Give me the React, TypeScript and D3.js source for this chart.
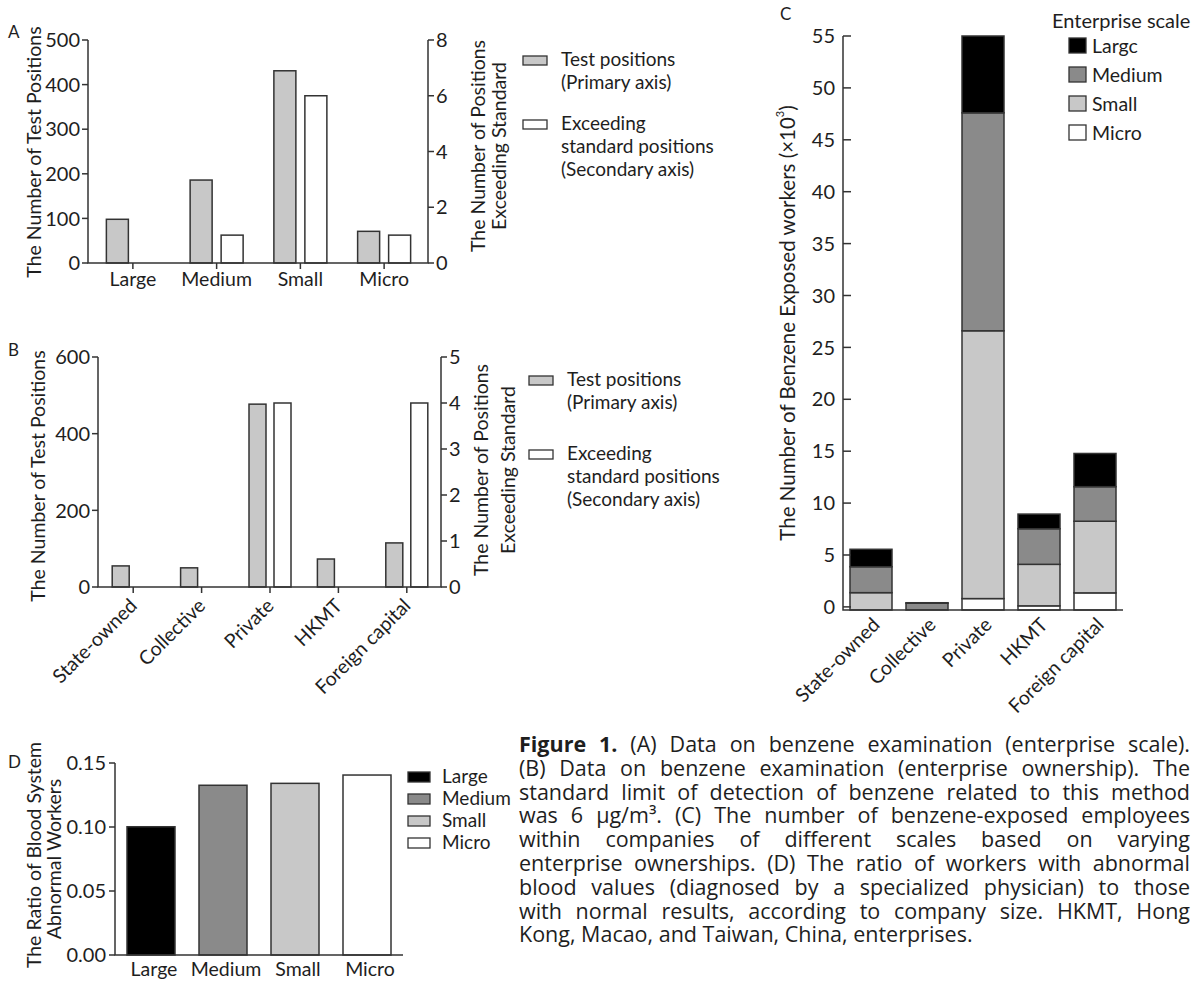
import React from 'react';
import * as d3 from 'd3';

const FONT = 'Lato, "Open Sans", sans-serif';
const CAP_FONT = '"Open Sans", Lato, sans-serif';
const INK = '#1e1e1e';
const LINE = '#333';
const LIGHT = '#c8c8c8';
const MID = '#8a8a8a';

// panel A: enterprise scale
const scaleCats = ['Large', 'Medium', 'Small', 'Micro'];
const aTest = [98, 186, 431, 71];
const aExceed = [0, 1, 6, 1];
const aLeftTicks = [0, 100, 200, 300, 400, 500];
const aRightTicks = [0, 2, 4, 6, 8];

// panel B: enterprise ownership
const ownCats = ['State-owned', 'Collective', 'Private', 'HKMT', 'Foreign capital'];
const bTest = [55, 50, 477, 73, 115];
const bExceed = [0, 0, 4, 0, 4];
const bLeftTicks = [0, 200, 400, 600];
const bRightTicks = [0, 1, 2, 3, 4, 5];

// panel C: exposed workers (x10^3), stacked by scale
const cMicro = [0, 0, 0.8, 0.1, 1.35];
const cSmall = [1.37, 0, 25.8, 4.0, 6.9];
const cMedium = [2.5, 0.35, 21.0, 3.43, 3.33];
const cLarge = [1.68, 0.05, 7.4, 1.41, 3.2];
const cTicks = [0, 5, 10, 15, 20, 25, 30, 35, 40, 45, 50, 55];
const cLegend = ['Largc', 'Medium', 'Small', 'Micro'];

// panel D: abnormal ratio
const dRatio = [0.1002, 0.1326, 0.1341, 0.1406];
const dTicks = [0, 0.05, 0.1, 0.15];

const caption = [
  '*Figure *1. (A) Data on benzene examination (enterprise scale).',
  '(B) Data on benzene examination (enterprise ownership). The',
  'standard limit of detection of benzene related to this method',
  'was 6 μg/m³. (C) The number of benzene-exposed employees',
  'within companies of different scales based on varying',
  'enterprise ownerships. (D) The ratio of workers with abnormal',
  'blood values (diagnosed by a specialized physician) to those',
  'with normal results, according to company size. HKMT, Hong',
  'Kong, Macao, and Taiwan, China, enterprises.',
];

const TICK = 20;
const LAB = 19.5;
const LEG = 19;
const CAP = 21.5;

const T = (p: any) => <text fill={INK} fontFamily={FONT} {...p} />;

function DualPanel(p: any) {
  const x = d3.scaleBand().domain(p.cats).range([p.bandX0, p.bandX1]);
  const yL = d3.scaleLinear().domain([0, d3.max(p.leftTicks) as number]).range([p.yBase, p.yTop]);
  const yR = d3.scaleLinear().domain([0, d3.max(p.rightTicks) as number]).range([p.yBase, p.yTop]);
  const cx = (c: string) => (x(c) as number) + x.bandwidth() / 2;
  return (
    <g>
      <T x={8} y={p.letterY} fontSize={17}>{p.letter}</T>
      {p.cats.map((c: string, i: number) => (
        <g key={c}>
          <rect x={cx(c) - p.inner - p.barW} y={yL(p.test[i])} width={p.barW}
            height={p.yBase - yL(p.test[i])} fill={LIGHT} stroke={LINE} strokeWidth={1.5} />
          {p.exceed[i] > 0 && (
            <rect x={cx(c) + p.inner} y={yR(p.exceed[i])} width={p.barW}
              height={p.yBase - yR(p.exceed[i])} fill="#fff" stroke={LINE} strokeWidth={1.5} />
          )}
          <line x1={cx(c)} x2={cx(c)} y1={p.yBase} y2={p.yBase + 6} stroke={LINE} strokeWidth={1.5} />
          {p.rotate ? (
            <T transform={`translate(${cx(c) + p.labDx},${p.yBase + p.labDy}) rotate(-45)`}
              textAnchor="end" fontSize={LAB}>{c}</T>
          ) : (
            <T x={cx(c)} y={p.yBase + 23} textAnchor="middle" fontSize={LAB}>{c}</T>
          )}
        </g>
      ))}
      <path d={`M${p.axisX0},${p.yTop}V${p.yBase}H${p.axisX1}V${p.yTop}`} fill="none" stroke={LINE} strokeWidth={1.5} />
      {p.leftTicks.map((t: number) => (
        <g key={'l' + t}>
          <line x1={p.axisX0 - 6} x2={p.axisX0} y1={yL(t)} y2={yL(t)} stroke={LINE} strokeWidth={1.5} />
          <T x={p.axisX0 - 8} y={yL(t)} dy="0.36em" textAnchor="end" fontSize={TICK}>{t}</T>
        </g>
      ))}
      {p.rightTicks.map((t: number) => (
        <g key={'r' + t}>
          <line x1={p.axisX1} x2={p.axisX1 + 6} y1={yR(t)} y2={yR(t)} stroke={LINE} strokeWidth={1.5} />
          <T x={p.axisX1 + 8} y={yR(t)} dy="0.36em" fontSize={TICK}>{t}</T>
        </g>
      ))}
      <T transform={`translate(${p.leftTitleX},${p.leftTitleY}) rotate(-90)`} textAnchor="middle"
        dominantBaseline="central" fontSize={LAB}>The Number of Test Positions</T>
      <T transform={`translate(${p.rightTitleX[0]},${p.rightTitleY}) rotate(-90)`} textAnchor="middle"
        dominantBaseline="central" fontSize={LAB}>The Number of Positions</T>
      <T transform={`translate(${p.rightTitleX[1]},${p.rightTitleY}) rotate(-90)`} textAnchor="middle"
        dominantBaseline="central" fontSize={LAB}>Exceeding Standard</T>
      <rect x={p.legX} y={p.legY} width={24} height={9} fill={LIGHT} stroke={LINE} strokeWidth={1.3} />
      <T x={p.legX + 38} y={p.legY + 10} fontSize={LEG}>Test positions</T>
      <T x={p.legX + 38} y={p.legY + 33} fontSize={LEG}>(Primary axis)</T>
      <rect x={p.legX} y={p.legY + p.legGap} width={24} height={9} fill="#fff" stroke={LINE} strokeWidth={1.3} />
      <T x={p.legX + 38} y={p.legY + p.legGap + 10} fontSize={LEG}>Exceeding</T>
      <T x={p.legX + 38} y={p.legY + p.legGap + 33} fontSize={LEG}>standard positions</T>
      <T x={p.legX + 38} y={p.legY + p.legGap + 56} fontSize={LEG}>(Secondary axis)</T>
    </g>
  );
}

function PanelC() {
  const x = d3.scaleBand().domain(ownCats).range([843, 1123]).paddingInner(0.25).paddingOuter(0.125);
  const y = d3.scaleLinear().domain([-0.3, 55]).range([610, 36]);
  const layers = [cMicro, cSmall, cMedium, cLarge];
  const fills = ['#fff', LIGHT, MID, '#000'];
  const base = y.domain()[0];
  return (
    <g>
      <T x={780} y={20} fontSize={17}>C</T>
      {ownCats.map((c, i) => {
        let acc = 0;
        return (
          <g key={c}>
            {layers.map((L, k) => {
              const lo = acc === 0 ? base : acc;
              acc += L[i];
              if (L[i] <= 0) return null;
              const hi = acc;
              return (
                <rect key={k} x={x(c)} y={y(hi)} width={x.bandwidth()} height={y(lo) - y(hi)}
                  fill={fills[k]} stroke={LINE} strokeWidth={1.5} />
              );
            })}
            <T transform={`translate(${(x(c) as number) + x.bandwidth() / 2 + 10},${626}) rotate(-45)`}
              textAnchor="end" fontSize={LAB}>{c}</T>
          </g>
        );
      })}
      <path d={`M843,36V610H1123`} fill="none" stroke={LINE} strokeWidth={1.5} />
      {cTicks.map(t => (
        <g key={t}>
          <line x1={843} x2={851} y1={y(t)} y2={y(t)} stroke={LINE} strokeWidth={1.5} />
          <T x={835} y={y(t)} dy="0.36em" textAnchor="end" fontSize={TICK}>{t}</T>
        </g>
      ))}
      <T transform="translate(787,323) rotate(-90)" textAnchor="middle" dominantBaseline="central" fontSize={20.5}>
        The Number of Benzene Exposed workers (×10<tspan fontSize={11} dy={-8}>3</tspan><tspan dy={8}>)</tspan>
      </T>
      <T x={1052} y={28} fontSize={20}>Enterprise scale</T>
      {cLegend.map((s, k) => (
        <g key={s}>
          <rect x={1069} y={38 + k * 29} width={17} height={15} fill={fills[3 - k]} stroke={LINE} strokeWidth={1.3} />
          <T x={1092} y={53 + k * 29} fontSize={19.5}>{s}</T>
        </g>
      ))}
    </g>
  );
}

function PanelD() {
  const x = d3.scaleBand().domain(scaleCats).range([115, 403]).paddingInner(1 / 3).paddingOuter(1 / 6);
  const y = d3.scaleLinear().domain([0, 0.15]).range([955, 763]);
  const fills = ['#000', MID, LIGHT, '#fff'];
  return (
    <g>
      <T x={8} y={768} fontSize={17}>D</T>
      {scaleCats.map((c, i) => (
        <g key={c}>
          <rect x={x(c)} y={y(dRatio[i])} width={x.bandwidth()} height={955 - y(dRatio[i])}
            fill={fills[i]} stroke={LINE} strokeWidth={1.5} />
          <T x={(x(c) as number) + x.bandwidth() / 2 + 3} y={976} textAnchor="middle" fontSize={LAB}>{c}</T>
        </g>
      ))}
      <path d="M115,763V955H403" fill="none" stroke={LINE} strokeWidth={1.5} />
      {dTicks.map(t => (
        <g key={t}>
          <line x1={109} x2={115} y1={y(t)} y2={y(t)} stroke={LINE} strokeWidth={1.5} />
          <T x={106} y={y(t)} dy="0.36em" textAnchor="end" fontSize={TICK}>{d3.format('.2f')(t)}</T>
        </g>
      ))}
      <T transform="translate(33,855) rotate(-90)" textAnchor="middle" dominantBaseline="central" fontSize={LAB}>
        The Ratio of Blood System
      </T>
      <T transform="translate(53,859) rotate(-90)" textAnchor="middle" dominantBaseline="central" fontSize={LAB}>
        Abnormal Workers
      </T>
      {scaleCats.map((c, k) => (
        <g key={'lg' + c}>
          <rect x={408} y={772 + k * 22} width={22} height={10} fill={fills[k]} stroke={LINE} strokeWidth={1.3} />
          <T x={442} y={783 + k * 22} fontSize={LEG}>{c}</T>
        </g>
      ))}
    </g>
  );
}

// justified caption: one <text> per line, words placed as tspans with the slack spread over the spaces
function Caption() {
  const ctx = React.useMemo(() => document.createElement('canvas').getContext('2d')!, []);
  const x0 = 519, x1 = 1190;
  return (
    <g>
      {caption.map((ln, i) => {
        const last = i === caption.length - 1;
        const words = ln.split(' ').map(w => {
          const bold = w.startsWith('*');
          const txt = w.replace(/\*/g, '');
          ctx.font = `${bold ? 'bold ' : ''}${CAP}px "Open Sans"`;
          return { txt, bold, w: ctx.measureText(txt).width };
        });
        ctx.font = `${CAP}px "Open Sans"`;
        const space = ctx.measureText(' ').width;
        const total = d3.sum(words, d => d.w);
        const gap = last ? space : Math.max(space * 0.6, (x1 - x0 - total) / (words.length - 1));
        let cx = x0;
        return (
          <T key={i} y={752 + i * 23.8} fontSize={CAP} fontFamily={CAP_FONT}>
            {words.map((d, j) => {
              const el = (
                <tspan key={j} x={cx} fontWeight={d.bold ? 'bold' : 'normal'}>{d.txt}</tspan>
              );
              cx += d.w + gap;
              return el;
            })}
          </T>
        );
      })}
    </g>
  );
}

export default function App() {
  return (
    <svg width={1203} height={991} style={{ position: 'absolute', left: 0, top: 0, background: '#fff' }}>
      <rect width={1203} height={991} fill="#fff" />
      <DualPanel cats={scaleCats} test={aTest} exceed={aExceed} leftTicks={aLeftTicks} rightTicks={aRightTicks}
        axisX0={88} axisX1={428} bandX0={91} bandX1={426} yBase={263} yTop={40} barW={22} inner={4.5}
        rotate={false} letter="A" letterY={38} leftTitleX={33} leftTitleY={152}
        rightTitleX={[477, 498]} rightTitleY={146} legX={523} legY={56} legGap={64} />
      <DualPanel cats={ownCats} test={bTest} exceed={bExceed} leftTicks={bLeftTicks} rightTicks={bRightTicks}
        axisX0={98} axisX1={441} bandX0={99} bandX1={441} yBase={587} yTop={357} barW={17} inner={4}
        rotate={true} labDx={5} labDy={20} letter="B" letterY={356} leftTitleX={37} leftTitleY={476}
        rightTitleX={[480, 507]} rightTitleY={470} legX={529} legY={376} legGap={74} />
      <PanelC />
      <PanelD />
      <Caption />
    </svg>
  );
}
